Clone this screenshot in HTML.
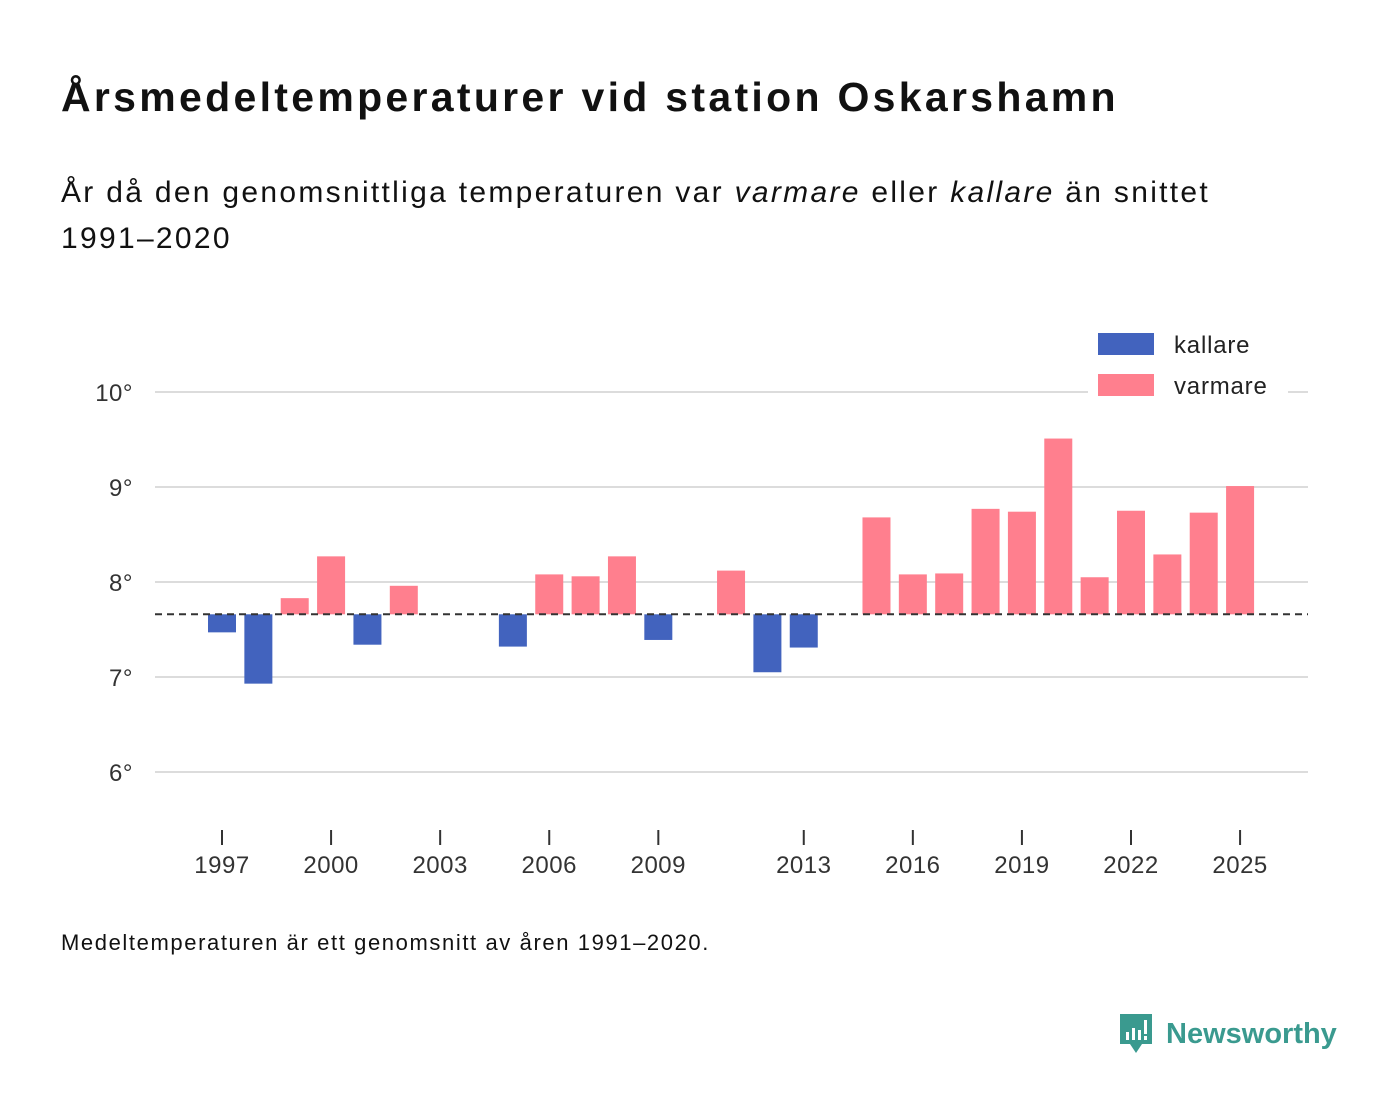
<!DOCTYPE html>
<html><head><meta charset="utf-8"><style>
body{margin:0;width:1400px;height:1116px;background:#fff;font-family:"Liberation Sans","DejaVu Sans",sans-serif;color:#111;position:relative;overflow:hidden}
.t{position:absolute;left:61px;top:74px;font-size:41px;font-weight:bold;margin:0;letter-spacing:3.3px;white-space:nowrap}
.s{position:absolute;left:61px;top:170px;font-size:30px;line-height:46px;width:1320px;color:#111;letter-spacing:2.3px}
.f{position:absolute;left:61px;top:930px;font-size:22px;letter-spacing:1.6px;white-space:nowrap}
.logo{position:absolute;left:1118px;top:1012px;display:flex;align-items:center;color:#3a9a8f;font-size:29px;font-weight:bold}
</style></head><body>
<h1 class="t">Årsmedeltemperaturer vid station Oskarshamn</h1>
<div class="s">År då den genomsnittliga temperaturen var <i>varmare</i> eller <i>kallare</i> än snittet<br>1991–2020</div>
<svg id="c" width="1400" height="1116" style="position:absolute;left:0;top:0"></svg>
<div class="f">Medeltemperaturen är ett genomsnitt av åren 1991–2020.</div>
<div class="logo">
<svg width="36" height="44" viewBox="0 0 36 44"><path d="M2 2h32v30H24l-6 9-6-9H2z" fill="#3a9a8f"/><rect x="8" y="20" width="3" height="8" fill="#fff"/><rect x="14" y="16" width="3" height="12" fill="#fff"/><rect x="20" y="18" width="3" height="10" fill="#fff"/><rect x="26" y="8" width="3" height="14" fill="#fff"/><rect x="26" y="24" width="3" height="4" fill="#fff"/></svg>
<span style="margin-left:12px">Newsworthy</span></div>
<script>
const years=[1997,1998,1999,2000,2001,2002,2005,2006,2007,2008,2009,2011,2012,2013,2015,2016,2017,2018,2019,2020,2021,2022,2023,2024,2025];
const temps=[7.47,6.93,7.83,8.27,7.34,7.96,7.32,8.08,8.06,8.27,7.39,8.12,7.05,7.31,8.68,8.08,8.09,8.77,8.74,9.51,8.05,8.75,8.29,8.73,9.01];
const baseline=7.66;
const yTicks=[6,7,8,9,10];
const xTicks=[1997,2000,2003,2006,2009,2013,2016,2019,2022,2025];
const NS="http://www.w3.org/2000/svg",svg=document.getElementById('c');
const x=v=>222+(v-1997)*36.36, y=v=>582-(v-8)*95;
function el(t,a,txt){const e=document.createElementNS(NS,t);for(const k in a)e.setAttribute(k,a[k]);if(txt!=null)e.textContent=txt;svg.appendChild(e);return e;}
yTicks.forEach(v=>{
const g=el('line',{x1:155,x2:1308,y1:y(v),y2:y(v),stroke:'#dcdcdc','stroke-width':2});


const l=el('text',{x:133,y:y(v)+9,'text-anchor':'end','font-size':24,fill:'#333','letter-spacing':0.5},v+'°');


});
xTicks.forEach(v=>{
const t=el('line',{x1:x(v),x2:x(v),y1:830,y2:845,stroke:'#333','stroke-width':2});


const l=el('text',{x:x(v),y:873,'text-anchor':'middle','font-size':24,fill:'#333','letter-spacing':0.5},v);


});
years.forEach((yr,i)=>{
const v=temps[i],y0=y(baseline),y1=y(v);
const r=el('rect',{x:x(yr)-14,width:28,y:Math.min(y0,y1),height:Math.abs(y1-y0),fill:v<baseline?'#4263be':'#ff7f8e'});


});
const b=el('line',{x1:155,x2:1308,y1:y(baseline),y2:y(baseline),stroke:'#333','stroke-width':2,'stroke-dasharray':'7,5'});


[['kallare','#4263be',333],['varmare','#ff7f8e',374]].forEach(([n,c,yy])=>{
const bg=el('rect',{x:1088,y:yy-6,width:200,height:34,fill:'#fff'});


const r=el('rect',{x:1098,y:yy,width:56,height:22,fill:c});


const t=el('text',{x:1174,y:yy+20,'font-size':24,fill:'#222','letter-spacing':0.8},n);


});
</script>
</body></html>
